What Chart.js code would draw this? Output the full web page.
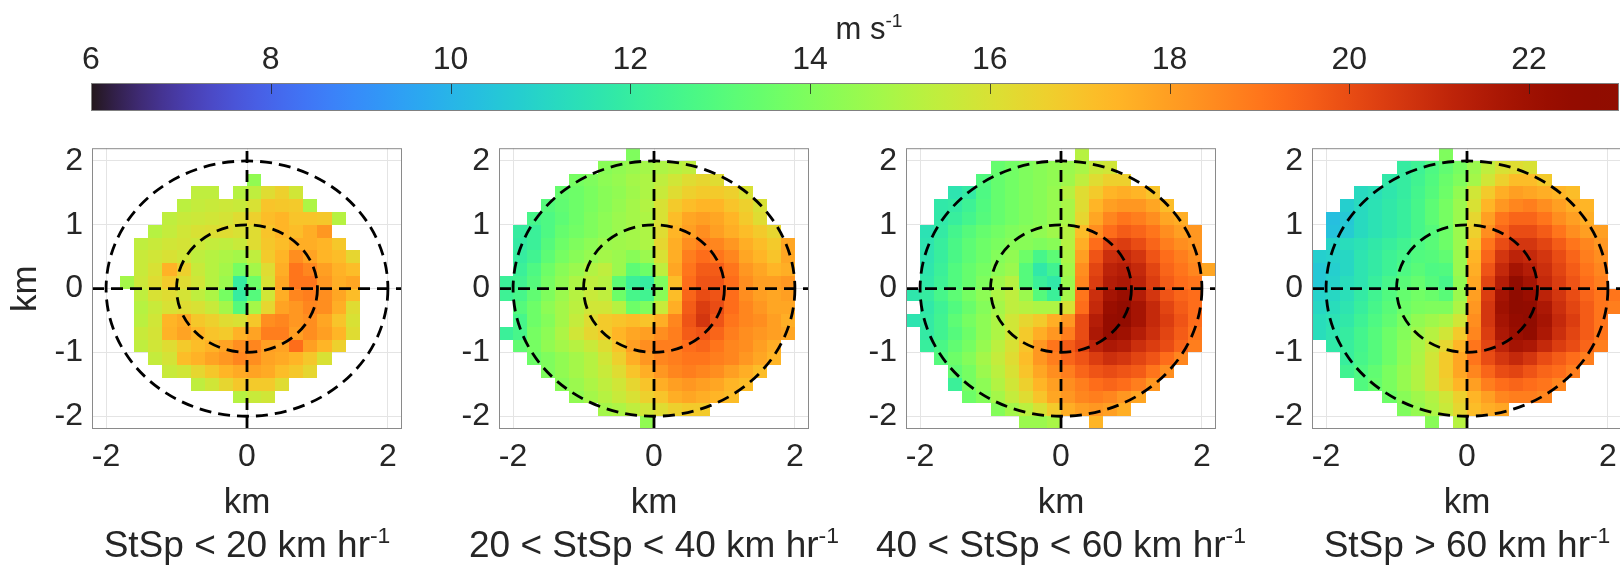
<!DOCTYPE html>
<html lang="en">
<head>
<meta charset="utf-8">
<title>Wind speed composites by storm speed</title>
<script src="https://cdn.jsdelivr.net/npm/chart.js@4/dist/chart.umd.min.js"></script>
<style>
  html, body { margin: 0; padding: 0; background: #fff; }
  body { position: relative; width: 1620px; height: 577px; overflow: hidden;
         font-family: "Liberation Sans", Arial, Helvetica, sans-serif; color: #262626; }
  canvas { position: absolute; }
  .cap { position: absolute; white-space: nowrap; transform: translateX(-50%); }
  .cap sup { font-size: 0.62em; line-height: 0; vertical-align: 0.6em; }
</style>
</head>
<body>
<canvas id="colourbar" width="1620" height="125" style="left:0;top:0"></canvas>
<div class="cap" style="left:869px;top:12px;font-size:31px;line-height:34px">m s<sup>-1</sup></div>
<script>
// cell centres in km, used for both axes; panel rows run from top (y=2.1) to bottom (y=-2.1)
const cellCentresKm = [-2.1, -1.9, -1.7, -1.5, -1.3, -1.1, -0.9, -0.7, -0.5, -0.3, -0.1,
                       0.1, 0.3, 0.5, 0.7, 0.9, 1.1, 1.3, 1.5, 1.7, 1.9, 2.1];
const cellSizeKm = 0.2;
const axisRangeKm = [-2.2, 2.2];
const xTicksKm = [-2, 0, 2];
const yTicksKm = [-2, -1, 0, 1, 2];
const ringsKm = [1, 2];
const colourTicks = [6, 8, 10, 12, 14, 16, 18, 20, 22];
const colourRange = [6, 23];
const panelTitles = ['StSp &lt; 20 km hr<sup>-1</sup>', '20 &lt; StSp &lt; 40 km hr<sup>-1</sup>',
                     '40 &lt; StSp &lt; 60 km hr<sup>-1</sup>', 'StSp &gt; 60 km hr<sup>-1</sup>'];

// each row: [index of first filled column, values (m/s) ...]
const stspBelow20 = [
  null, null,
  [11, 14.4],
  [7, 15.4, 15.4, null, 15.2, 15.4, 16.2, 16.6, 15.8],
  [6, 15.3, 15.5, 15.6, 15.7, 15.6, 16.0, 17.0, 16.9, 16.8, 15.0],
  [5, 15.4, 15.6, 15.7, 15.8, 15.9, 16.2, 16.6, 17.2, 17.4, 17.0, 17.0, 16.9, 15.2],
  [4, 15.2, 15.5, 15.8, 16.0, 16.1, 16.2, 16.0, 16.2, 17.0, 17.4, 17.2, 17.6, 18.2],
  [3, 15.4, 15.6, 15.8, 15.9, 15.7, 15.5, 15.4, 15.6, 16.2, 16.9, 17.2, 17.6, 17.6, 17.4, 16.9],
  [3, 15.6, 15.8, 16.0, 15.8, 15.4, 15.2, 15.0, 14.8, 15.4, 16.8, 17.4, 18.4, 17.9, 17.4, 17.2, 16.4],
  [3, 15.6, 16.0, 17.5, 16.6, 15.6, 15.2, 14.8, 13.8, 14.8, 16.2, 17.6, 19.0, 18.6, 18.0, 17.5, 17.2],
  [2, 14.8, 15.7, 16.2, 16.8, 16.2, 15.8, 15.2, 14.6, 12.0, 13.6, 16.0, 17.8, 19.0, 19.0, 18.2, 17.6, 17.8],
  [3, 15.4, 16.0, 16.2, 15.9, 15.4, 15.0, 13.8, 12.0, 13.0, 15.8, 17.6, 18.6, 18.8, 18.4, 17.8, 17.2],
  [3, 15.2, 15.6, 16.0, 16.2, 16.0, 15.6, 14.8, 13.0, 14.8, 16.4, 17.9, 18.2, 18.6, 18.4, 17.6, 16.2],
  [3, 15.3, 15.8, 17.4, 17.7, 16.9, 16.6, 16.2, 16.0, 16.9, 18.4, 18.6, 18.2, 18.4, 17.8, 17.0, 16.0],
  [3, 15.6, 15.9, 17.5, 17.9, 17.4, 17.0, 16.8, 17.5, 17.9, 18.8, 18.8, 18.0, 18.4, 18.0, 17.4, 16.2],
  [3, 15.4, 15.8, 16.2, 16.8, 17.2, 17.5, 17.9, 18.4, 18.6, 18.0, 17.9, 19.2, 18.0, 17.4, 16.6],
  [4, 15.5, 15.9, 17.2, 17.5, 17.9, 18.2, 18.6, 18.4, 17.9, 17.7, 17.4, 16.9, 16.0],
  [5, 15.6, 15.8, 16.4, 16.9, 17.4, 17.7, 17.9, 17.7, 17.2, 16.9, 16.4],
  [7, 15.4, 15.8, 16.4, 16.9, 16.8, 16.8, 16.2],
  [10, 15.2, 15.6, 15.8],
  null, null
];

const stsp20to40 = [
  [9, 14.0],
  [7, 14.2, 14.4, 14.6, 14.8, 15.0, 15.2, 15.4],
  [5, 13.8, 14.0, 14.3, 14.5, 14.8, 15.0, 15.4, 15.8, 16.2, 16.4, 16.2],
  [4, 13.4, 13.6, 13.9, 14.2, 14.4, 14.7, 15.0, 15.6, 16.2, 16.6, 16.8, 16.8, 16.6, 16.0],
  [3, 13.0, 13.3, 13.6, 13.9, 14.2, 14.5, 14.8, 15.1, 16.0, 16.8, 17.2, 17.4, 17.4, 17.0, 16.6, 16.0],
  [2, 12.6, 12.8, 13.2, 13.6, 14.0, 14.3, 14.6, 14.8, 15.0, 16.0, 17.2, 17.8, 18.0, 17.8, 17.4, 16.8, 16.2],
  [1, 12.0, 12.2, 12.8, 13.4, 13.7, 14.0, 14.3, 14.6, 14.8, 15.0, 16.2, 17.4, 18.0, 18.4, 18.0, 17.6, 17.2, 16.8, 16.4],
  [1, 11.9, 12.2, 13.0, 13.6, 14.0, 14.3, 14.6, 14.7, 14.8, 15.0, 16.4, 17.6, 18.4, 18.8, 18.6, 18.2, 17.6, 17.2, 16.8, 17.8],
  [1, 12.0, 12.4, 13.2, 13.8, 14.2, 14.5, 14.8, 14.6, 14.2, 14.6, 16.0, 17.6, 18.8, 19.2, 19.0, 18.6, 17.8, 17.4, 17.0, 17.8],
  [1, 12.2, 12.8, 13.6, 14.2, 14.6, 15.1, 15.4, 14.6, 13.2, 13.6, 15.4, 17.8, 19.0, 19.6, 19.6, 19.0, 18.2, 17.8, 17.4, 17.6],
  [0, 12.2, 12.4, 13.0, 13.8, 14.4, 15.0, 15.4, 15.2, 13.2, 12.2, 12.0, 14.0, 17.2, 19.2, 19.8, 19.8, 19.2, 18.4, 18.0, 18.0, 18.2],
  [0, 12.3, 12.6, 13.3, 14.0, 14.6, 15.2, 15.6, 15.4, 13.6, 12.6, 12.4, 14.2, 17.2, 19.4, 20.0, 19.8, 19.2, 18.4, 18.0, 17.8, 18.0],
  [1, 13.0, 13.6, 14.3, 14.8, 15.3, 15.8, 15.8, 15.2, 13.6, 14.0, 15.6, 17.6, 19.6, 20.4, 20.0, 19.2, 18.6, 18.2, 17.8, 17.8],
  [1, 12.6, 13.6, 14.1, 14.8, 15.5, 16.2, 16.8, 17.0, 17.2, 17.0, 17.6, 18.6, 19.8, 20.6, 19.8, 19.0, 18.6, 18.4, 18.0, 17.6],
  [0, 12.2, 12.6, 13.8, 14.3, 15.0, 15.8, 16.4, 16.8, 17.4, 17.8, 18.0, 18.4, 18.8, 19.6, 19.8, 19.4, 18.8, 18.4, 18.2, 18.0, 17.8],
  [1, 13.3, 13.8, 14.4, 14.8, 15.2, 15.6, 16.2, 17.0, 18.0, 18.4, 18.8, 18.8, 19.2, 19.4, 19.0, 18.6, 18.4, 18.0, 17.6],
  [2, 13.6, 14.0, 14.4, 14.8, 15.2, 15.8, 16.6, 17.6, 18.2, 18.6, 18.8, 19.0, 19.0, 18.8, 18.6, 18.2, 17.8, 17.4],
  [3, 14.0, 14.4, 14.8, 15.2, 15.6, 16.2, 17.0, 17.6, 18.2, 18.6, 18.8, 18.6, 18.4, 18.0, 17.6, 17.2],
  [4, 14.2, 14.6, 15.0, 15.4, 15.8, 16.4, 17.0, 17.6, 18.0, 18.2, 18.0, 17.8, 17.4, 17.2],
  [5, 14.4, 14.8, 15.2, 15.6, 16.0, 16.6, 17.0, 17.6, 17.8, 17.6, 17.4, 17.2],
  [7, 14.8, 15.0, 15.4, 15.8, 16.2, 16.6, 16.8, 16.8],
  [10, 14.4]
];

const stsp40to60 = [
  [12, 15.2],
  [6, 13.4, 13.7, 14.0, 14.2, 14.4, 14.6, 14.9, 15.6, 15.8],
  [5, 12.9, 13.4, 13.7, 14.0, 14.2, 14.4, 14.7, 15.4, 16.2, 16.6, 16.6],
  [3, 11.6, 11.9, 12.8, 13.4, 13.7, 14.0, 14.2, 14.5, 15.2, 16.2, 16.8, 17.4, 17.6, 17.4, 17.0],
  [2, 11.8, 11.9, 12.3, 12.9, 13.4, 13.7, 14.0, 14.2, 14.5, 14.9, 16.2, 17.4, 18.0, 18.2, 18.2, 17.8, 17.2],
  [2, 11.8, 12.1, 12.5, 13.0, 13.4, 13.7, 14.0, 14.2, 14.5, 14.9, 16.4, 17.8, 18.6, 19.0, 18.8, 18.4, 17.8, 17.6],
  [1, 11.5, 11.9, 12.5, 13.0, 13.4, 13.7, 14.0, 14.2, 14.4, 14.7, 15.2, 17.2, 18.4, 19.2, 19.6, 19.4, 19.0, 18.4, 18.0, 18.2],
  [1, 11.6, 12.1, 12.7, 13.2, 13.6, 13.9, 14.2, 14.2, 14.0, 14.2, 15.2, 17.6, 19.2, 20.2, 20.4, 20.0, 19.4, 18.8, 18.4, 18.2],
  [1, 11.6, 12.1, 12.7, 13.2, 13.6, 14.1, 14.4, 13.6, 12.6, 13.2, 15.0, 18.0, 19.8, 20.8, 21.0, 20.6, 19.8, 19.2, 18.8, 18.4],
  [1, 11.7, 12.2, 12.9, 13.4, 13.8, 14.3, 14.6, 13.0, 11.8, 12.4, 14.8, 18.4, 20.2, 21.2, 21.4, 21.0, 20.2, 19.4, 19.0, 18.6, 17.8],
  [1, 11.8, 12.3, 12.9, 13.4, 14.0, 14.7, 15.2, 13.0, 12.2, 11.8, 14.6, 18.6, 20.4, 21.4, 21.6, 21.2, 20.4, 19.6, 19.2, 19.0],
  [0, 11.7, 12.0, 12.6, 13.2, 13.8, 14.3, 15.0, 15.4, 14.6, 13.0, 12.2, 14.8, 19.0, 20.8, 21.8, 22.2, 21.4, 20.6, 19.8, 19.4, 19.2],
  [1, 11.8, 12.3, 12.9, 13.5, 14.1, 14.8, 15.4, 15.2, 15.0, 15.0, 16.0, 19.2, 21.0, 22.2, 22.6, 21.8, 21.0, 20.2, 19.6, 19.2],
  [0, 11.6, 11.9, 12.4, 13.2, 13.8, 14.3, 15.0, 15.8, 16.4, 16.8, 17.6, 18.2, 20.0, 21.4, 22.4, 22.6, 21.8, 21.0, 20.4, 19.8, 19.2],
  [1, 11.9, 12.4, 13.0, 13.6, 14.3, 15.0, 15.8, 16.8, 17.6, 18.2, 18.8, 20.0, 21.6, 22.4, 22.0, 21.4, 20.8, 20.2, 19.6, 19.0],
  [1, 12.1, 12.7, 13.3, 13.8, 14.5, 15.3, 16.0, 17.0, 18.2, 19.0, 19.6, 20.2, 21.2, 21.6, 21.4, 20.8, 20.4, 20.0, 19.4, 18.8],
  [2, 13.0, 13.6, 14.1, 14.8, 15.5, 16.2, 17.2, 18.2, 18.8, 19.4, 19.8, 20.4, 20.8, 20.6, 20.2, 19.8, 19.2, 18.6],
  [3, 13.3, 13.8, 14.6, 15.3, 16.0, 17.0, 17.8, 18.4, 18.8, 19.4, 19.8, 20.0, 19.8, 19.6, 19.0, 18.4],
  [3, 12.2, 13.8, 14.3, 15.1, 15.8, 16.6, 17.4, 18.0, 18.4, 18.8, 19.2, 19.4, 19.2, 18.8, 18.2],
  [4, 13.6, 14.1, 14.8, 15.5, 16.2, 17.0, 17.8, 18.2, 18.6, 18.8, 18.6, 18.2, 17.8],
  [6, 14.1, 14.8, 15.3, 16.0, 16.8, 17.6, 18.0, 18.2, 18.0, 17.6],
  [8, 14.6, 14.6, 14.9, null, null, 17.4]
];

const stspAbove60 = [
  [9, 14.0],
  [6, 12.0, 12.3, 12.8, 13.3, 13.8, 14.6, 15.4, 16.0, 16.2, 16.0],
  [5, 11.8, 12.0, 12.4, 12.9, 13.5, 14.0, 14.8, 15.8, 16.6, 17.2, 17.2, 16.8],
  [3, 11.2, 11.4, 11.7, 12.0, 12.5, 13.0, 13.6, 14.4, 15.8, 16.8, 17.6, 18.0, 17.8, 17.6, 17.4, 17.2],
  [2, 10.8, 11.2, 11.5, 11.8, 12.1, 12.6, 13.2, 13.8, 14.6, 16.0, 17.4, 18.2, 18.6, 18.8, 18.4, 18.0, 17.6, 17.4],
  [1, 10.3, 10.6, 11.2, 11.5, 11.8, 12.1, 12.6, 13.2, 13.8, 14.6, 16.4, 18.0, 19.0, 19.4, 19.4, 19.0, 18.4, 18.0, 17.6],
  [1, 10.4, 10.7, 11.2, 11.5, 11.8, 12.1, 12.6, 13.0, 13.6, 14.6, 16.6, 18.4, 19.4, 20.0, 20.0, 19.6, 19.0, 18.4, 18.0, 18.0],
  [1, 11.0, 11.3, 11.5, 11.8, 12.1, 12.4, 12.8, 13.1, 13.6, 14.6, 17.0, 19.0, 20.0, 20.6, 20.6, 20.2, 19.6, 19.0, 18.6, 18.2],
  [0, 10.8, 10.9, 11.1, 11.6, 11.9, 12.3, 12.6, 12.9, 13.0, 13.3, 14.6, 17.4, 19.4, 20.6, 21.2, 21.0, 20.6, 20.0, 19.4, 18.8, 18.4],
  [0, 10.6, 10.8, 11.1, 11.6, 11.9, 12.3, 12.8, 13.1, 12.8, 12.9, 14.6, 17.6, 19.8, 21.0, 21.8, 21.4, 20.8, 20.2, 19.6, 19.0, 18.6],
  [0, 10.6, 10.9, 11.3, 11.6, 12.1, 12.6, 13.1, 13.4, 13.0, 12.6, 14.4, 17.8, 20.2, 21.4, 22.6, 21.8, 21.0, 20.4, 19.8, 19.2, 18.8],
  [0, 10.9, 11.1, 11.4, 11.9, 12.4, 12.9, 13.4, 13.7, 13.5, 13.1, 14.6, 18.0, 20.4, 21.8, 22.8, 22.2, 21.2, 20.6, 20.0, 19.4, 19.0, 19.0],
  [0, 11.1, 11.3, 11.6, 12.1, 12.6, 13.1, 13.6, 13.9, 14.0, 14.0, 15.0, 18.2, 20.6, 22.0, 22.8, 22.6, 21.6, 20.8, 20.2, 19.6, 19.0, 18.8],
  [0, 11.3, 11.5, 11.8, 12.3, 12.8, 13.3, 13.9, 14.4, 14.7, 15.0, 15.8, 18.4, 20.6, 21.8, 22.4, 22.8, 21.8, 21.0, 20.4, 19.6, 19.0],
  [0, 11.3, 11.6, 12.0, 12.5, 13.0, 13.6, 14.1, 14.7, 15.2, 15.8, 16.8, 18.6, 20.4, 21.6, 22.2, 22.6, 21.6, 20.8, 20.2, 19.6, 19.0],
  [1, 11.8, 12.1, 12.5, 13.0, 13.6, 14.3, 14.9, 15.6, 16.4, 17.4, 19.0, 20.2, 21.2, 21.8, 21.6, 21.0, 20.4, 20.0, 19.4, 18.8],
  [2, 12.1, 12.6, 13.0, 13.6, 14.3, 15.0, 15.8, 16.8, 17.8, 19.0, 20.0, 20.6, 21.0, 20.6, 20.0, 19.6, 19.2, 18.8],
  [2, 12.4, 12.8, 13.3, 13.9, 14.5, 15.1, 15.8, 16.8, 17.8, 18.6, 19.4, 20.0, 20.2, 19.8, 19.4, 19.2, 18.8],
  [3, 12.9, 13.4, 13.9, 14.5, 15.1, 15.8, 16.6, 17.4, 18.0, 18.8, 19.2, 19.4, 19.2, 19.0, 18.6],
  [5, 13.6, 14.2, 14.7, 15.1, 15.8, 16.6, 17.4, 18.0, 18.6, 18.8, 18.8, 18.6],
  [6, 14.0, 14.5, 15.0, 15.6, 16.4, 17.2, 17.6, 17.8],
  [8, 14.2, null, 15.2]
];

const panels = [stspBelow20, stsp20to40, stsp40to60, stspAbove60];
const panelBoxLeft = [92, 499, 906, 1312];   // pixel left of each plot box

// turbo colour map (polynomial fit)
function turbo(v) {
  const t = Math.min(1, Math.max(0, (v - colourRange[0]) / (colourRange[1] - colourRange[0])));
  const r = 0.13572138 + t * (4.61539260 + t * (-42.66032258 + t * (132.13108234 + t * (-152.94239396 + t * 59.28637943))));
  const g = 0.09140261 + t * (2.19418839 + t * (4.84296658 + t * (-14.18503333 + t * (4.27729857 + t * 2.82956604))));
  const b = 0.10667330 + t * (12.64194608 + t * (-60.58204836 + t * (110.36276771 + t * (-89.90310912 + t * 27.34824973))));
  const c = x => Math.round(255 * Math.min(1, Math.max(0, x)));
  return `rgb(${c(r)},${c(g)},${c(b)})`;
}

Chart.defaults.font.family = '"Liberation Sans", Arial, Helvetica, sans-serif';
Chart.defaults.color = '#262626';

const heatCells = {
  id: 'heatCells',
  beforeDatasetsDraw(chart) {
    const { ctx, scales: { x, y } } = chart;
    const h = cellSizeKm / 2;
    ctx.save();
    chart.data.datasets[0].data.forEach(p => {
      const l = Math.round(x.getPixelForValue(p.x - h)), r = Math.round(x.getPixelForValue(p.x + h));
      const t = Math.round(y.getPixelForValue(p.y + h)), b = Math.round(y.getPixelForValue(p.y - h));
      ctx.fillStyle = turbo(p.v);
      ctx.fillRect(l, t, r - l, b - t);
    });
    ctx.restore();
  }
};

const overlay = {
  id: 'overlay',
  afterDatasetsDraw(chart) {
    const { ctx, chartArea: a, scales: { x, y } } = chart;
    const cx = x.getPixelForValue(0), cy = y.getPixelForValue(0);
    ctx.save();
    ctx.strokeStyle = '#000';
    ctx.lineWidth = 2.8;
    ctx.setLineDash([12, 7]);
    ringsKm.forEach(rk => {
      ctx.beginPath();
      ctx.ellipse(cx, cy, x.getPixelForValue(rk) - cx, cy - y.getPixelForValue(rk), 0, 0, 2 * Math.PI);
      ctx.stroke();
    });
    ctx.beginPath();
    ctx.moveTo(x.getPixelForValue(axisRangeKm[0]), cy);
    ctx.lineTo(x.getPixelForValue(axisRangeKm[1]), cy);
    ctx.stroke();
    ctx.beginPath();
    ctx.moveTo(cx, y.getPixelForValue(axisRangeKm[0]));
    ctx.lineTo(cx, y.getPixelForValue(axisRangeKm[1]));
    ctx.stroke();
    ctx.setLineDash([]);
    ctx.lineWidth = 1;
    ctx.strokeStyle = '#8a8a8a';
    ctx.strokeRect(a.left + 0.5, a.top + 0.5, a.width - 1, a.height - 1);
    ctx.restore();
  }
};

const colourStrip = {
  id: 'colourStrip',
  beforeDatasetsDraw(chart) {
    const { ctx, chartArea: a, scales: { x } } = chart;
    const x0 = x.getPixelForValue(colourRange[0]), x1 = x.getPixelForValue(colourRange[1]);
    const grad = ctx.createLinearGradient(x0, 0, x1, 0);
    for (let k = 0; k <= 64; k++) {
      grad.addColorStop(k / 64, turbo(colourRange[0] + (colourRange[1] - colourRange[0]) * k / 64));
    }
    ctx.save();
    ctx.fillStyle = grad;
    ctx.fillRect(a.left, a.top, a.width, a.height);
    ctx.strokeStyle = 'rgba(30,30,30,0.75)';
    ctx.lineWidth = 1;
    colourTicks.slice(1).forEach(v => {
      const px = Math.round(x.getPixelForValue(v)) + 0.5;
      ctx.beginPath();
      ctx.moveTo(px, a.top);
      ctx.lineTo(px, a.top + 11);
      ctx.stroke();
    });
    ctx.strokeStyle = '#808080';
    ctx.strokeRect(a.left + 0.5, a.top + 0.5, a.width - 1, a.height - 1);
    ctx.restore();
  }
};

new Chart(document.getElementById('colourbar'), {
  type: 'scatter',
  data: { datasets: [{ data: [] }] },
  options: {
    responsive: false, animation: false, events: [],
    layout: { padding: { left: 91, right: 1, top: 0, bottom: 14 } },
    plugins: { legend: { display: false }, tooltip: { enabled: false } },
    scales: {
      x: {
        type: 'linear', position: 'top', min: colourRange[0], max: colourRange[1],
        afterBuildTicks: s => { s.ticks = colourTicks.map(value => ({ value })); },
        afterFit: s => { s.height = 83; },
        grid: { display: false, drawTicks: false },
        border: { display: false },
        ticks: { padding: 4, font: { size: 32 }, maxRotation: 0, autoSkip: false }
      },
      y: { display: false, min: 0, max: 1 }
    }
  },
  plugins: [colourStrip]
});

panels.forEach((rows, i) => {
  const canvas = document.createElement('canvas');
  canvas.width = 422;
  canvas.height = 404;
  canvas.style.left = (panelBoxLeft[i] - 92) + 'px';
  canvas.style.top = '120px';
  document.body.appendChild(canvas);

  const cap = document.createElement('div');
  cap.className = 'cap';
  cap.style.cssText = `left:${panelBoxLeft[i] + 155}px;top:524px;font-size:37px;line-height:42px`;
  cap.innerHTML = panelTitles[i];
  document.body.appendChild(cap);

  const cells = [];
  rows.forEach((row, r) => {
    if (!row) return;
    row.slice(1).forEach((v, k) => {
      if (v === null) return;
      cells.push({ x: cellCentresKm[row[0] + k], y: cellCentresKm[cellCentresKm.length - 1 - r], v });
    });
  });

  new Chart(canvas, {
    type: 'scatter',
    data: { datasets: [{ data: cells, pointRadius: 0, pointHoverRadius: 0 }] },
    options: {
      responsive: false, animation: false, events: [],
      layout: { padding: { top: 26, right: 20, left: 0, bottom: 0 } },
      plugins: { legend: { display: false }, tooltip: { enabled: false } },
      scales: {
        x: {
          type: 'linear', min: axisRangeKm[0], max: axisRangeKm[1],
          afterBuildTicks: s => { s.ticks = xTicksKm.map(value => ({ value })); },
          afterFit: s => { s.height = 95; },
          grid: { color: '#e4e4e4', drawTicks: false },
          border: { display: false },
          ticks: { padding: 9, font: { size: 32 }, maxRotation: 0, autoSkip: false },
          title: { display: true, text: 'km', font: { size: 35 }, padding: { top: 0, bottom: 0 } }
        },
        y: {
          type: 'linear', min: axisRangeKm[0], max: axisRangeKm[1],
          afterBuildTicks: s => { s.ticks = yTicksKm.map(value => ({ value })); },
          afterFit: s => { s.width = 92; },
          grid: { color: '#e4e4e4', drawTicks: false },
          border: { display: false },
          ticks: { padding: 9, font: { size: 32 }, autoSkip: false },
          title: { display: i === 0, text: 'km', font: { size: 35 }, padding: { top: 5, bottom: 0 } }
        }
      }
    },
    plugins: [heatCells, overlay]
  });
});
</script>
</body>
</html>
